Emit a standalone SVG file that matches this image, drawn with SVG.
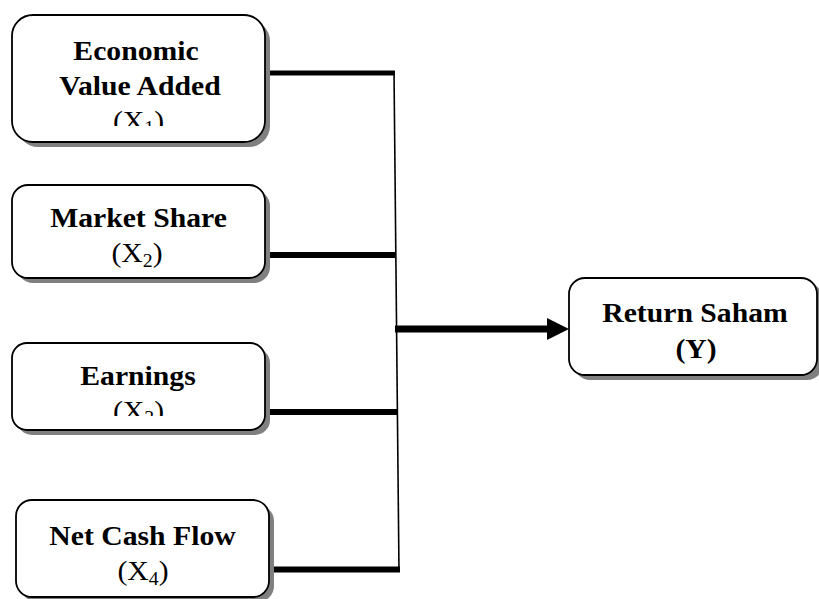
<svg xmlns="http://www.w3.org/2000/svg" width="819" height="599" viewBox="0 0 819 599">
<style>
.sh{fill:#808080;}
.bx{fill:#fff;stroke:#000;stroke-width:1.8;}
.t{font-family:"Liberation Serif","Times New Roman",serif;font-size:27px;text-anchor:middle;fill:#000;}
.b{font-weight:bold;}
.sub{font-size:18px;}
.thick{stroke:#000;stroke-width:6;fill:none;}
.thin{stroke:#000;stroke-width:1.6;fill:none;}
</style>
<defs>
<clipPath id="c1"><rect x="12" y="15" width="253" height="111"/></clipPath>
<clipPath id="c3"><rect x="12" y="343" width="253" height="73"/></clipPath>
</defs>
<g id="connectors">
<line class="thin" x1="394" y1="71" x2="399" y2="572"/>
<line class="thick" x1="262" y1="73" x2="395" y2="73" style="stroke-width:5"/>
<line class="thick" x1="262" y1="255" x2="395" y2="255"/>
<line class="thick" x1="265" y1="412" x2="397" y2="412"/>
<line class="thick" x1="269" y1="569.5" x2="400" y2="569.5"/>
<line class="thick" x1="395" y1="329" x2="549" y2="329" style="stroke-width:7"/>
<polygon points="547,318 569,329 547,340" fill="#000"/>
</g>
<g id="x1">
<rect class="sh" x="17" y="20" width="253" height="127" rx="21"/>
<rect class="bx" x="12" y="15" width="253" height="127" rx="21"/>
<g clip-path="url(#c1)">
<text class="t b" transform="matrix(1.1 0 0 1 136 0)" x="0" y="60">Economic</text>
<text class="t b" transform="matrix(1.1 0 0 1 140 0)" x="0" y="95">Value Added</text>
<text class="t" transform="matrix(1.1 0 0 1 138.5 0)" x="0" y="130">(X<tspan class="sub" dy="4">1</tspan><tspan dy="-4">)</tspan></text>
</g>
</g>
<g id="x2">
<rect class="sh" x="17" y="190" width="253" height="93" rx="16"/>
<rect class="bx" x="12" y="185" width="253" height="93" rx="16"/>
<text class="t b" transform="matrix(1.1 0 0 1 138.5 0)" x="0" y="227">Market Share</text>
<text class="t" transform="matrix(1.1 0 0 1 137 0)" x="0" y="262">(X<tspan class="sub" dy="5">2</tspan><tspan dy="-5">)</tspan></text>
</g>
<g id="x3">
<rect class="sh" x="17" y="348" width="253" height="87" rx="15"/>
<rect class="bx" x="12" y="343" width="253" height="87" rx="15"/>
<g clip-path="url(#c3)">
<text class="t b" transform="matrix(1.1 0 0 1 138 0)" x="0" y="385">Earnings</text>
<text class="t" transform="matrix(1.1 0 0 1 138.5 0)" x="0" y="420">(X<tspan class="sub" dy="4">3</tspan><tspan dy="-4">)</tspan></text>
</g>
</g>
<g id="x4">
<rect class="sh" x="21" y="505" width="253" height="97" rx="16"/>
<rect class="bx" x="16" y="500" width="253" height="97" rx="16"/>
<text class="t b" transform="matrix(1.1 0 0 1 142.5 0)" x="0" y="545">Net Cash Flow</text>
<text class="t" transform="matrix(1.1 0 0 1 143 0)" x="0" y="580">(X<tspan class="sub" dy="5">4</tspan><tspan dy="-5">)</tspan></text>
</g>
<g id="y">
<rect class="sh" x="574" y="283" width="249" height="97" rx="16"/>
<rect class="bx" x="569" y="278" width="248" height="97" rx="16"/>
<text class="t b" transform="matrix(1.1 0 0 1 695 0)" x="0" y="322">Return Saham</text>
<text class="t b" transform="matrix(1.1 0 0 1 696 0)" x="0" y="358">(Y)</text>
</g>
</svg>
